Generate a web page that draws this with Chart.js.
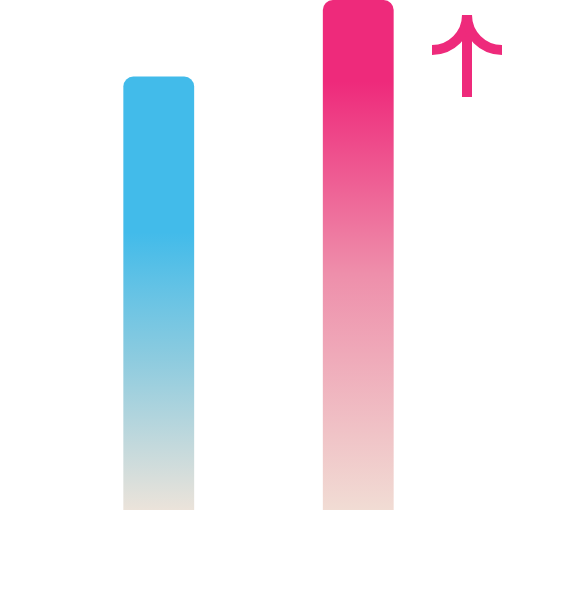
<!DOCTYPE html>
<html><head><meta charset="utf-8">
<style>
html,body{margin:0;padding:0;background:#fff;}
#wrap{position:relative;width:574px;height:600px;}
#arrow{position:absolute;left:0;top:0;}
</style>
<script src="https://cdn.jsdelivr.net/npm/chart.js@4"></script>
</head><body>
<div id="wrap"><canvas id="c" width="574" height="600"></canvas>
<svg id="arrow" width="574" height="600" viewBox="0 0 574 600" xmlns="http://www.w3.org/2000/svg">
  <g fill="none" stroke="#ee2a7b" stroke-width="10" stroke-linecap="butt">
    <line x1="467" y1="15" x2="467" y2="97"/>
    <path d="M467 15 A35 35 0 0 1 432 50"/>
    <path d="M467 15 A35 35 0 0 0 502 50"/>
  </g>
</svg>
</div>
<script>
const categories = ["A", "B"];
const values = [85, 100];
const topColors = ["#42bbea", "#ee2a7b"];
const midColors = ["#8ccbdf", "#ee8fab"];
const bottomColors = ["#ebe3da", "#f1dcd4"];
const solidStops = [0.36, 0.16];

const ctx = document.getElementById('c').getContext('2d');
new Chart(ctx, {
  type: 'bar',
  data: {
    labels: categories,
    datasets: [{
      data: values,
      backgroundColor: (c) => {
        const chart = c.chart;
        const area = chart.chartArea;
        if (!area || c.type !== 'data') return topColors[c.dataIndex];
        const y = chart.scales.y;
        const t = y.getPixelForValue(values[c.dataIndex]);
        const b = y.getPixelForValue(0);
        const g = chart.ctx.createLinearGradient(0, t, 0, b);
        const i = c.dataIndex;
        g.addColorStop(0, topColors[i]);
        g.addColorStop(solidStops[i], topColors[i]);
        g.addColorStop(solidStops[i] + (1 - solidStops[i]) * 0.45, midColors[i]);
        g.addColorStop(1, bottomColors[i]);
        return g;
      },
      borderRadius: {topLeft: 10, topRight: 10, bottomLeft: 0, bottomRight: 0},
      borderSkipped: 'bottom',
      barPercentage: 0.355,
      categoryPercentage: 1
    }]
  },
  options: {
    responsive: false,
    animation: false,
    layout: {padding: {left: 59, right: 116, top: 0, bottom: 90}},
    plugins: {legend: {display: false}, tooltip: {enabled: false}},
    scales: {
      x: {display: false},
      y: {display: false, min: 0, max: 100}
    }
  }
});
</script>
</body></html>
